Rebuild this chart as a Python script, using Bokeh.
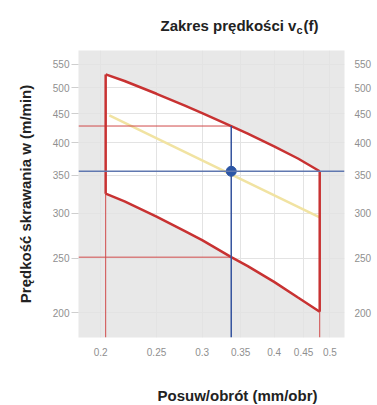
from bokeh.plotting import figure
from bokeh.layouts import column
from bokeh.models import Range1d, FixedTicker, LogAxis, NumeralTickFormatter, Span
from bokeh.embed import file_html
from bokeh.resources import INLINE

# ---- data ----
feed_edge = [0.204, 0.22, 0.25, 0.28, 0.30, 0.337, 0.36, 0.40, 0.44, 0.48]
vc_upper = [528, 514, 488, 465, 451, 428, 415, 394, 375, 356]
vc_lower = [325, 315, 296, 279, 269, 251, 242, 227, 213, 201]
feed_mid = [0.207, 0.48]
vc_mid = [447, 295]
f_op = 0.337
vc_op = 356
vc_op_max = 428
vc_op_min = 251
x_ticks = [0.2, 0.25, 0.3, 0.35, 0.4, 0.45, 0.5]
y_ticks = [200, 250, 300, 350, 400, 450, 500, 550]
x_min, x_max = 0.183, 0.53
y_min, y_max = 181, 582

title_main = "Zakres prędkości v"
title_sub = "c"
title_tail = "(f)"
x_label = "Posuw/obrót (mm/obr)"
y_label = "Prędkość skrawania w (m/min)"

RED = "#c83232"
RED_THIN = "#d04a4a"
BLUE = "#34539e"
BLUE_H = "#6078b0"
YELLOW = "#f1e3a2"
FONT = "Liberation Sans"
TXT = "#222222"
W = 377
BL, BR = 78, 33  # frame borders shared by all stacked figures


def text_strip(height):
    # x data units == page pixels (frame spans BL .. W-BR)
    f = figure(width=W, height=height, x_range=Range1d(BL, W - BR), y_range=Range1d(0, height),
               output_backend="svg", toolbar_location=None,
               min_border_left=BL, min_border_right=BR, min_border_top=0, min_border_bottom=0)
    f.axis.visible = False
    f.grid.visible = False
    f.outline_line_color = None
    f.background_fill_color = "white"
    f.border_fill_color = "white"
    return f


# ---- title strip ----
top = text_strip(36)
top.text([160], [11], text=[title_main], text_font={"value": FONT}, text_font_style="bold",
         text_font_size="15px", text_color=TXT, text_baseline="alphabetic", text_align="left")
top.text([296], [7], text=[title_sub], text_font={"value": FONT}, text_font_style="bold",
         text_font_size="11px", text_color=TXT, text_baseline="alphabetic", text_align="left")
top.text([303], [11], text=[title_tail], text_font={"value": FONT}, text_font_style="bold",
         text_font_size="15px", text_color=TXT, text_baseline="alphabetic", text_align="left")

# ---- main chart ----
p = figure(width=W, height=339, x_axis_type="log", y_axis_type="log",
           x_range=Range1d(x_min, x_max), y_range=Range1d(y_min, y_max),
           output_backend="svg", toolbar_location=None,
           min_border_left=BL, min_border_right=BR, min_border_top=14, min_border_bottom=38)
p.background_fill_color = "#e8e8e8"
p.border_fill_color = "white"
p.outline_line_color = None

p.xgrid.ticker = FixedTicker(ticks=x_ticks)
p.ygrid.ticker = FixedTicker(ticks=y_ticks)
p.grid.grid_line_color = "#e3e3e3"
p.grid.grid_line_width = 1
p.grid.minor_grid_line_color = None

p.xaxis.ticker = FixedTicker(ticks=x_ticks)
p.yaxis.ticker = FixedTicker(ticks=y_ticks)
p.xaxis.formatter = NumeralTickFormatter(format="0.[00]")
p.yaxis.formatter = NumeralTickFormatter(format="0")
for ax in [p.xaxis[0], p.yaxis[0]]:
    ax.axis_line_color = None
    ax.minor_tick_line_color = None
    ax.major_label_text_color = "#8f8f8f"
    ax.major_label_text_font_size = "10px"
    ax.major_label_text_font = FONT
p.xaxis.major_tick_line_color = None
p.xaxis.major_tick_out = 0
p.xaxis.major_tick_in = 0
p.xaxis.major_label_standoff = 10
p.yaxis.major_tick_line_color = "#cfcfcf"
p.yaxis.major_tick_out = 7
p.yaxis.major_tick_in = 0
p.yaxis.major_label_standoff = 2
p.yaxis.axis_label = y_label
p.yaxis.axis_label_text_font = FONT
p.yaxis.axis_label_text_font_style = "bold"
p.yaxis.axis_label_text_font_size = "15px"
p.yaxis.axis_label_text_color = TXT
p.yaxis.axis_label_standoff = 16

ry = LogAxis(ticker=FixedTicker(ticks=y_ticks), formatter=NumeralTickFormatter(format="0"))
ry.axis_line_color = None
ry.major_tick_line_color = None
ry.major_tick_out = 0
ry.major_tick_in = 0
ry.minor_tick_line_color = None
ry.major_label_text_color = "#8f8f8f"
ry.major_label_text_font_size = "10px"
ry.major_label_text_font = FONT
ry.major_label_standoff = 10
p.add_layout(ry, "right")

# white admissible region
xs = feed_edge + feed_edge[::-1]
ys = vc_upper + vc_lower[::-1]
p.patch(xs, ys, fill_color="white", line_color=None, level="image")

# middle (yellow) line
p.line(feed_mid, vc_mid, line_color=YELLOW, line_width=2.5)

# thin red guides
p.line([feed_edge[0], feed_edge[0]], [y_min, vc_lower[0]], line_color=RED_THIN, line_width=1)
p.line([feed_edge[-1], feed_edge[-1]], [y_min, vc_lower[-1]], line_color=RED_THIN, line_width=1)
p.line([x_min, f_op], [vc_op_max, vc_op_max], line_color=RED_THIN, line_width=1)
p.line([x_min, f_op], [vc_op_min, vc_op_min], line_color=RED_THIN, line_width=1)

# red polygon border
p.line(feed_edge, vc_upper, line_color=RED, line_width=2.5)
p.line(feed_edge, vc_lower, line_color=RED, line_width=2.5)
p.line([feed_edge[0], feed_edge[0]], [vc_upper[0], vc_lower[0]], line_color=RED, line_width=2.5)
p.line([feed_edge[-1], feed_edge[-1]], [vc_upper[-1], vc_lower[-1]], line_color=RED, line_width=2.5)

# blue operating point
p.add_layout(Span(location=vc_op, dimension="width", line_color=BLUE_H, line_width=1.5))
p.line([f_op, f_op], [y_min, vc_op_max], line_color=BLUE, line_width=1.5)
p.scatter([f_op], [vc_op], size=10, fill_color="#2c56a6", line_color="#2c56a6")

# ---- x-axis label strip ----
bottom = text_strip(30)
bottom.text([237], [10], text=[x_label], text_font={"value": FONT}, text_font_style="bold",
            text_font_size="15px", text_color=TXT, text_baseline="middle", text_align="center")

layout = column(top, p, bottom, spacing=0)
open("out.html", "w").write(file_html(layout, INLINE))
